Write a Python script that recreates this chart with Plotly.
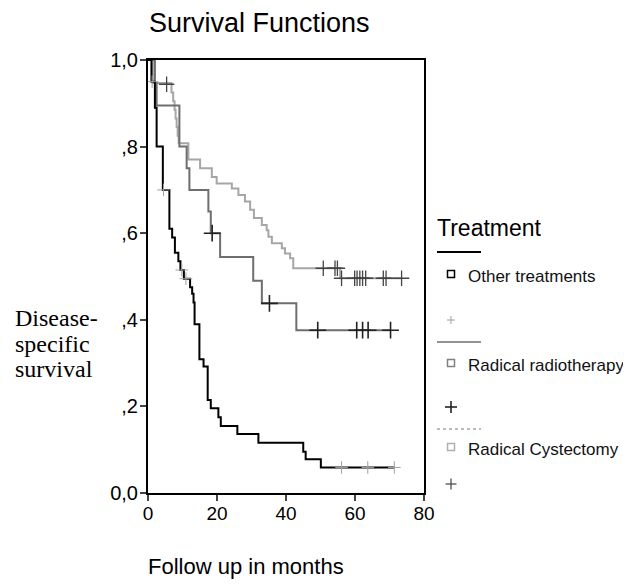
import plotly.graph_objects as go

# ---- data ----
other_t = [0, 1.0, 2.0, 2.5, 4.3, 6.2, 7.0, 7.8, 8.8, 9.4, 10.4, 12.2, 12.8, 13.2, 13.5, 14.9,
           16.1, 17.3, 18.2, 20.4, 21.1, 25.9, 32.0, 45.0, 45.7, 50.1, 71.4]
other_s = [1.0, 0.95, 0.89, 0.80, 0.70, 0.61, 0.59, 0.555, 0.535, 0.515, 0.495, 0.475, 0.46, 0.44,
           0.39, 0.309, 0.292, 0.215, 0.196, 0.175, 0.155, 0.136, 0.116, 0.095, 0.078, 0.059, 0.059]
other_cens_t = [1.2, 4.5, 9.8, 11.0, 56.1, 63.7, 71.4]
other_cens_s = [0.95, 0.70, 0.515, 0.495, 0.059, 0.059, 0.059]

radio_t = [0, 2.0, 2.5, 9.1, 11.2, 12.0, 17.5, 18.2, 20.9, 30.5, 33.0, 43.0, 70.3]
radio_s = [1.0, 0.947, 0.895, 0.80, 0.75, 0.70, 0.65, 0.60, 0.545, 0.49, 0.438, 0.376, 0.376]
radio_cens_t = [18.6, 35.2, 49.2, 60.5, 62.2, 63.8, 70.3]
radio_cens_s = [0.60, 0.438, 0.376, 0.376, 0.376, 0.376, 0.376]

cyst_t = [0, 1.4, 6.8, 7.3, 7.7, 8.0, 8.3, 8.6, 8.9, 11.7, 15.1, 18.5, 19.9, 24.3, 26.2, 28.1,
          29.6, 30.7, 33.0, 34.4, 34.9, 35.9, 38.8, 39.7, 41.2, 42.1, 55.7, 73.5]
cyst_s = [1.0, 0.947, 0.925, 0.905, 0.885, 0.865, 0.845, 0.825, 0.808, 0.77, 0.75, 0.73, 0.715,
          0.703, 0.688, 0.673, 0.654, 0.635, 0.619, 0.607, 0.592, 0.577, 0.565, 0.553, 0.542,
          0.519, 0.496, 0.496]
cyst_cens_t = [5.4, 50.8, 54.2, 54.9, 56.1, 59.9, 60.6, 61.4, 62.2, 63.1, 68.2, 69.0, 73.5]
cyst_cens_s = [0.944, 0.519, 0.519, 0.519, 0.496, 0.496, 0.496, 0.496, 0.496, 0.496, 0.496,
               0.496, 0.496]

x_ticks = [0, 20, 40, 60, 80]
y_ticks = [0, 0.2, 0.4, 0.6, 0.8, 1.0]
y_ticktext = ["0,0", ",2", ",4", ",6", ",8", "1,0"]

group_names = ["Other treatments", "Radical radiotherapy", "Radical Cystectomy"]

# ---- styles ----
C_OTHER = "#000000"
C_RADIO = "#6e6e6e"
C_CYST = "#a6a6a6"
SANS = "Liberation Sans, Arial, sans-serif"
SERIF = "Liberation Serif, Times New Roman, serif"

OFF = 8  # page body margin
FW, FH = 631 - OFF, 584 - OFF
L, T, W, H = 148, 60, 276, 433  # plot area in window pixels

fig = go.Figure()

fig.add_trace(go.Scatter(x=cyst_t, y=cyst_s, mode="lines", line=dict(color=C_CYST, width=2, shape="hv"),
                         showlegend=False, cliponaxis=False))
fig.add_trace(go.Scatter(x=radio_t, y=radio_s, mode="lines", line=dict(color=C_RADIO, width=2, shape="hv"),
                         showlegend=False, cliponaxis=False))
fig.add_trace(go.Scatter(x=other_t, y=other_s, mode="lines", line=dict(color=C_OTHER, width=2, shape="hv"),
                         showlegend=False, cliponaxis=False))

fig.add_trace(go.Scatter(x=other_cens_t, y=other_cens_s, mode="markers", showlegend=False,
                         marker=dict(symbol="cross-thin-open", size=9, color="#a0a0a0",
                                     line=dict(width=1, color="#a0a0a0"))))
fig.add_trace(go.Scatter(x=radio_cens_t, y=radio_cens_s, mode="markers", showlegend=False,
                         marker=dict(symbol="cross-thin-open", size=12, color="#222222",
                                     line=dict(width=1.6, color="#222222"))))
fig.add_trace(go.Scatter(x=cyst_cens_t, y=cyst_cens_s, mode="markers", showlegend=False,
                         marker=dict(symbol="cross-thin-open", size=11, color="#444444",
                                     line=dict(width=1.3, color="#444444"))))


def px(x):
    return (x - L) / W


def py(y):
    return (T + H - y) / H


shapes = []
annotations = []

annotations.append(dict(x=px(435), y=py(228), xref="paper", yref="paper", text="Treatment",
                        showarrow=False, xanchor="left", yanchor="middle",
                        font=dict(family=SANS, size=23, color="#000")))

legend_rows = [
    (252, "solid", C_OTHER, 2, 274, "#000000", group_names[0], 320, "star"),
    (342, "solid", C_RADIO, 1.5, 363, "#808080", group_names[1], 407, "cross"),
    (429, "dot", C_CYST, 1.5, 447, "#b0b0b0", group_names[2], 484, "crossthin"),
]
for ly, dash, lc, lw, sy, sc, name, my, mk in legend_rows:
    shapes.append(dict(type="line", xref="paper", yref="paper", x0=px(437), x1=px(481), y0=py(ly), y1=py(ly),
                       line=dict(color=lc, width=lw, dash=dash)))
    shapes.append(dict(type="rect", xref="paper", yref="paper", xsizemode="pixel", ysizemode="pixel",
                       xanchor=px(451), yanchor=py(sy), x0=-3.5, x1=3.5, y0=-3.5, y1=3.5,
                       line=dict(color=sc, width=1.5)))
    annotations.append(dict(x=px(466), y=py(sy + 2), xref="paper", yref="paper", text=name,
                            showarrow=False, xanchor="left", yanchor="middle",
                            font=dict(family=SANS, size=17, color="#111")))
    if mk == "star":
        mcol, mw, hs = "#a0a0a0", 1, 4
    elif mk == "cross":
        mcol, mw, hs = "#222222", 1.6, 6
    else:
        mcol, mw, hs = "#444444", 1.2, 5.5
    shapes.append(dict(type="line", xref="paper", yref="paper", xsizemode="pixel", ysizemode="pixel",
                       xanchor=px(451), yanchor=py(my), x0=-hs, x1=hs, y0=0, y1=0,
                       line=dict(color=mcol, width=mw)))
    shapes.append(dict(type="line", xref="paper", yref="paper", xsizemode="pixel", ysizemode="pixel",
                       xanchor=px(451), yanchor=py(my), x0=0, x1=0, y0=-hs, y1=hs,
                       line=dict(color=mcol, width=mw)))

# title, axis labels
annotations.append(dict(x=px(259), y=py(23), xref="paper", yref="paper", text="Survival Functions",
                        showarrow=False, xanchor="center", yanchor="middle",
                        font=dict(family=SANS, size=27, color="#000")))
annotations.append(dict(x=px(246), y=py(566), xref="paper", yref="paper", text="Follow up in months",
                        showarrow=False, xanchor="center", yanchor="middle",
                        font=dict(family=SANS, size=22, color="#000")))
for txt, yy in [("Disease-", 318), ("specific", 344), ("survival", 369)]:
    annotations.append(dict(x=px(13), y=py(yy), xref="paper", yref="paper", text=txt,
                            showarrow=False, xanchor="left", yanchor="middle",
                            font=dict(family=SERIF, size=24, color="#000")))

fig.update_layout(
    width=FW, height=FH,
    margin=dict(l=L - OFF, r=FW - (L - OFF) - W, t=T - OFF, b=FH - (T - OFF) - H),
    paper_bgcolor="white", plot_bgcolor="white",
    showlegend=False,
    shapes=shapes, annotations=annotations,
    font=dict(family=SANS, color="#000"),
)
fig.update_xaxes(range=[0, 80], tickvals=x_ticks, ticks="outside", ticklen=6, tickwidth=2,
                 showline=True, linecolor="#000", linewidth=2, mirror=True, showgrid=False,
                 zeroline=False, ticklabelstandoff=-4,
                 tickfont=dict(family=SANS, size=19, color="#000"))
fig.update_yaxes(range=[0, 1], tickvals=y_ticks, ticktext=y_ticktext, ticks="outside", ticklen=6,
                 tickwidth=2, showline=True, linecolor="#000", linewidth=2, mirror=True,
                 showgrid=False, zeroline=False, ticklabelstandoff=-2,
                 tickfont=dict(family=SANS, size=20, color="#000"))

fig.write_html("out.html")
